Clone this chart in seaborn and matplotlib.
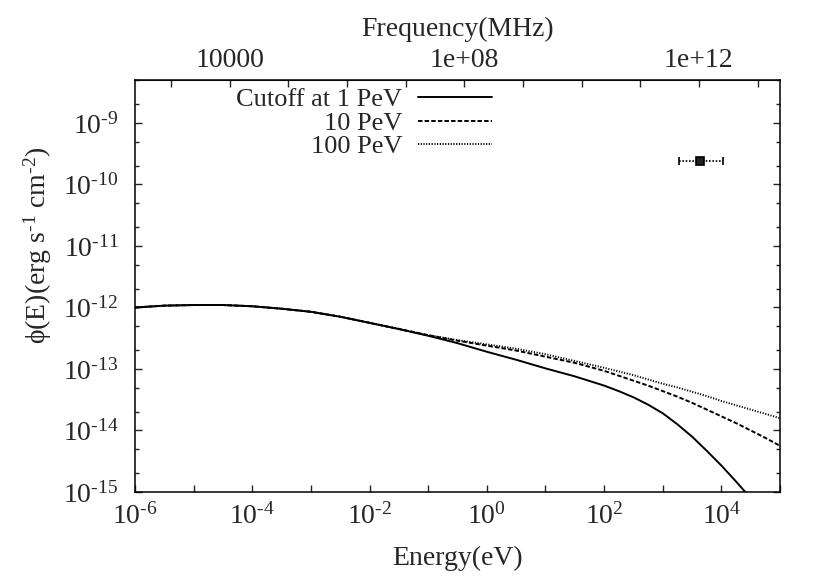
import numpy as np
import pandas as pd
import seaborn as sns
import matplotlib
matplotlib.use("Agg")
import matplotlib.pyplot as plt
from matplotlib.ticker import FixedLocator, NullFormatter, NullLocator, LogLocator

# log10(energy / eV) sample points
LOG_E = [-6, -5.5, -5, -4.5, -4, -3.5, -3, -2.5, -2, -1.5, -1, -0.5, 0, 0.5, 1,
         1.5, 2, 2.25, 2.5, 2.75, 3, 3.25, 3.5, 3.75, 4, 4.25, 4.5, 4.75, 5]

# log10(flux) for each cutoff
LOG_F_1PEV = [-12.00, -11.97, -11.96, -11.96, -11.98, -12.02, -12.07, -12.15, -12.25,
              -12.35, -12.46, -12.58, -12.72, -12.85, -12.99, -13.12, -13.27, -13.36,
              -13.46, -13.58, -13.72, -13.90, -14.10, -14.33, -14.57, -14.83, -15.10,
              -15.40, -15.75]
LOG_F_10PEV = [-12.00, -11.97, -11.96, -11.96, -11.98, -12.02, -12.07, -12.15, -12.25,
               -12.35, -12.45, -12.54, -12.62, -12.70, -12.80, -12.90, -13.03, -13.11,
               -13.19, -13.27, -13.36, -13.45, -13.55, -13.66, -13.77, -13.88, -14.00,
               -14.12, -14.25]
LOG_F_100PEV = [-12.00, -11.97, -11.96, -11.96, -11.98, -12.02, -12.07, -12.15, -12.25,
                -12.35, -12.45, -12.53, -12.60, -12.67, -12.76, -12.87, -12.98, -13.04,
                -13.10, -13.17, -13.24, -13.30, -13.37, -13.44, -13.52, -13.59, -13.66,
                -13.73, -13.80]

SERIES_LABELS = ["Cutoff at 1 PeV", "10 PeV", "100 PeV"]

# observed point with horizontal error bar
POINT_E = 4.4e3
POINT_E_LO = 1.9e3
POINT_E_HI = 1.05e4
POINT_F = 2.45e-10

X_DECADES = list(range(-6, 6))
Y_DECADES = list(range(-15, -8))
FREQ_TICKS = [1e4, 1e8, 1e12]
FREQ_LABELS = ["10000", "1e+08", "1e+12"]
FREQ_MINOR = [10.0 ** k for k in range(3, 14)]

MHZ_PER_EV = 2.418e8
HY = "\u2010"  # hyphen-looking minus used in the labels

sns.set_style("ticks")
plt.rcParams["font.family"] = ["Liberation Serif", "DejaVu Serif"]
plt.rcParams["mathtext.fontset"] = "custom"
plt.rcParams["mathtext.rm"] = "Liberation Serif"
plt.rcParams["mathtext.it"] = "Liberation Serif:italic"
plt.rcParams["mathtext.default"] = "regular"
plt.rcParams["axes.unicode_minus"] = False

FS = 20

fig = plt.figure(figsize=(8.3, 5.81), dpi=100)
ax = fig.add_axes([0.1627, 0.1532, 0.7771, 0.7091])
ax.set_xscale("log")
ax.set_yscale("log")

e = 10.0 ** np.array(LOG_E)
styles = ["-", (0, (2.3, 1.1)), (0, (0.6, 0.8))]
for vals, lab, ls in zip([LOG_F_1PEV, LOG_F_10PEV, LOG_F_100PEV], SERIES_LABELS, styles):
    df = pd.DataFrame({"E": e, "F": 10.0 ** np.array(vals)})
    sns.lineplot(data=df, x="E", y="F", ax=ax, color="black", linewidth=1.4,
                 linestyle=ls, label=lab)

eb = ax.errorbar([POINT_E], [POINT_F],
                 xerr=[[POINT_E - POINT_E_LO], [POINT_E_HI - POINT_E]],
                 fmt="s", ms=5.5, mfc="#222222", mec="black", mew=1.2,
                 ecolor="black", elinewidth=1.2, capsize=3, capthick=1)
eb[2][0].set_linestyle((0, (1, 1)))

ax.set_xlim(1e-6, 1e5)
ax.set_ylim(1e-15, 5e-9)

ax.set_xticks([10.0 ** k for k in X_DECADES])
ax.set_xticklabels([r"$10^{%s%d}$" % (HY if k < 0 else "", abs(k)) if k % 2 == 0 else ""
                    for k in X_DECADES])
ax.xaxis.set_minor_locator(NullLocator())
ax.set_yticks([10.0 ** k for k in Y_DECADES])
ax.set_yticklabels([r"$10^{%s%d}$" % (HY, abs(k)) for k in Y_DECADES])
ax.yaxis.set_minor_locator(LogLocator(base=10, subs=(2.0, 5.0)))
ax.yaxis.set_minor_formatter(NullFormatter())

ax.tick_params(axis="x", which="major", direction="in", length=5, width=1,
               labelsize=FS, pad=8, top=False)
ax.tick_params(axis="y", which="major", direction="in", length=5, width=1,
               labelsize=FS, pad=12, right=True)
ax.tick_params(axis="y", which="minor", direction="in", length=3, width=1, right=True)

for s in ax.spines.values():
    s.set_linewidth(1.1)
    s.set_color("black")

ax.set_xlabel("Energy(eV)", fontsize=FS, labelpad=12)
ax.set_ylabel("\u03d5(E)(erg s$^{%s1}$ cm$^{%s2}$)" % (HY, HY), fontsize=FS)
ax.yaxis.set_label_coords(-0.125, 0.60)

sec = ax.secondary_xaxis("top", functions=(lambda x: x * MHZ_PER_EV,
                                          lambda f: f / MHZ_PER_EV))
sec.set_xticks(FREQ_TICKS)
sec.set_xticklabels(FREQ_LABELS)
sec.xaxis.set_minor_locator(FixedLocator(FREQ_MINOR))
sec.xaxis.set_minor_formatter(NullFormatter())
sec.tick_params(axis="x", which="major", direction="in", length=5, width=1,
                labelsize=FS, pad=5)
sec.tick_params(axis="x", which="minor", direction="in", length=5, width=1)
sec.set_xlabel("Frequency(MHz)", fontsize=FS, labelpad=9)

leg = ax.legend(loc="upper right", bbox_to_anchor=(0.5535, 0.981), frameon=False,
                markerfirst=False, fontsize=19, handlelength=2.8,
                handletextpad=0.6, labelspacing=0.0, borderaxespad=0, borderpad=0)

fig.savefig("out.png", dpi=100)
